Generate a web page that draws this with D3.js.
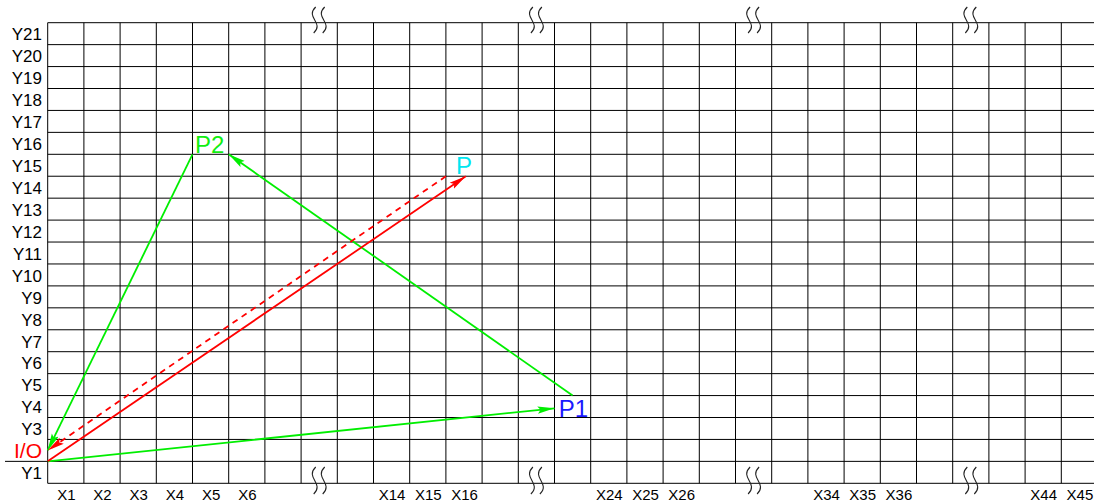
<!DOCTYPE html>
<html>
<head>
<meta charset="utf-8">
<script src="https://cdn.jsdelivr.net/npm/d3@7"></script>
<style>
  html, body { margin: 0; padding: 0; background: #fff; }
  svg { display: block; }
  text { font-family: "Liberation Sans", Arial, Helvetica, sans-serif; }
</style>
</head>
<body>
<svg id="chart" width="1094" height="504"></svg>
<script>
// ---------------- DATA ----------------
const colLabels = ["X1","X2","X3","X4","X5","X6","","","","X14","X15","X16","","","","X24","X25","X26","","","","X34","X35","X36","","","","X44","X45"];
const rowLabels = ["Y1","I/O","Y3","Y4","Y5","Y6","Y7","Y8","Y9","Y10","Y11","Y12","Y13","Y14","Y15","Y16","Y17","Y18","Y19","Y20","Y21"];
const breakCols = [7, 13, 19, 25];           // zero-based grid columns carrying a break mark
// arrows in grid units: [x, y] with x = columns from left edge, y = rows from bottom edge
const redSolid  = [[0, 1], [11.55, 14]];     // O -> P
const redDashed = [[11, 14], [0, 1.5]];      // P -> I/O
const green1    = [[0, 1], [14, 3.42]];      // O -> P1
const green2    = [[14.5, 4], [5, 15]];      // P1 -> P2
const green3    = [[4, 15], [0, 1.5]];       // P2 -> I/O
const pointLabels = [
  { name: "P",  x: 11.28, y: 14.08 },
  { name: "P1", x: 14.12, y: 3.03 },
  { name: "P2", x: 4.07,  y: 15.07 }
];

// ---------------- LAYOUT / STYLE ----------------
const nCols = colLabels.length, nRows = rowLabels.length;
const gLeft = 47.7, colW = 36.2, gTop = 22.7, gBottom = 483.3;
const x = d3.scaleLinear().domain([0, nCols]).range([gLeft, gLeft + nCols * colW]);
const y = d3.scaleLinear().domain([0, nRows]).range([gBottom, gTop]);
const RED = "#ff0000", GREEN = "#00ee00";
const labelColor = { "P": "#00e6f0", "P1": "#1a1aff", "P2": "#11ee11" };

const svg = d3.select("#chart");

// grid
const grid = svg.append("g").attr("stroke", "#000").attr("stroke-width", 1);
grid.selectAll("line.v").data(d3.range(0, nCols + 1)).join("line")
  .attr("class", "v")
  .attr("x1", d => x(d)).attr("x2", d => x(d))
  .attr("y1", y(0)).attr("y2", y(nRows));
grid.selectAll("line.h").data(d3.range(0, nRows + 1)).join("line")
  .attr("class", "h")
  .attr("x1", d => d === 1 ? 5 : x(0))
  .attr("x2", x(nCols))
  .attr("y1", d => y(d)).attr("y2", d => y(d));

// break marks
function breakPath(cx, y0, y1) {
  const h = y1 - y0;
  return `M${cx + 1},${y0} C${cx - 10},${y0 + h * 0.4} ${cx + 10},${y0 + h * 0.6} ${cx - 1},${y1}`;
}
const brk = svg.append("g").attr("fill", "none").attr("stroke", "#222").attr("stroke-width", 1.1);
breakCols.forEach(c => {
  const cx = x(c + 0.5);
  [[7, 33], [467, 494]].forEach(([a, b]) => {
    [-4.5, 4.5].forEach(off => {
      brk.append("path").attr("d", breakPath(cx + off, a, b));
    });
  });
});

// axis labels
const xAxis = d3.axisBottom(x)
  .tickValues(d3.range(nCols).map(i => i + 0.5))
  .tickFormat((d, i) => colLabels[i])
  .tickSize(0).tickPadding(0);
const gx = svg.append("g").attr("transform", `translate(0,${gBottom})`).call(xAxis);
gx.select(".domain").remove();
gx.selectAll("text")
  .attr("font-size", 15).attr("fill", "#000")
  .attr("dy", null).attr("y", 17)
  .style("font-family", '"Liberation Sans", Arial, sans-serif');

svg.append("g").selectAll("text").data(rowLabels).join("text")
  .attr("x", 42)
  .attr("y", (d, i) => (y(i) + y(i + 1)) / 2 + (d === "I/O" ? 8 : 6.8))
  .attr("text-anchor", "end")
  .attr("font-size", d => d === "I/O" ? 21 : 17)
  .attr("fill", d => d === "I/O" ? RED : "#000")
  .text(d => d);

// arrow markers
const defs = svg.append("defs");
function marker(id, color) {
  defs.append("marker")
    .attr("id", id)
    .attr("markerUnits", "userSpaceOnUse")
    .attr("viewBox", "0 0 17 8")
    .attr("refX", 17).attr("refY", 4)
    .attr("markerWidth", 17).attr("markerHeight", 8)
    .attr("orient", "auto")
    .append("path").attr("d", "M0,0.3 L17,4 L0,7.7 L3,4 Z").attr("fill", color);
}
marker("arrRed", RED);
marker("arrGreen", GREEN);

const line = d3.line().x(d => x(d[0])).y(d => y(d[1]));
const arrows = [
  { pts: green1, color: GREEN, m: "arrGreen", dash: null },
  { pts: green2, color: GREEN, m: "arrGreen", dash: null },
  { pts: green3, color: GREEN, m: "arrGreen", dash: null },
  { pts: redDashed, color: RED, m: "arrRed", dash: "6,5" },
  { pts: redSolid, color: RED, m: "arrRed", dash: null }
];
svg.append("g").selectAll("path").data(arrows).join("path")
  .attr("d", d => line(d.pts))
  .attr("fill", "none")
  .attr("stroke", d => d.color)
  .attr("stroke-width", 1.8)
  .attr("stroke-dasharray", d => d.dash)
  .attr("marker-end", d => `url(#${d.m})`);

// point labels
svg.append("g").selectAll("text").data(pointLabels).join("text")
  .attr("x", d => x(d.x)).attr("y", d => y(d.y))
  .attr("font-size", 24)
  .attr("fill", d => labelColor[d.name])
  .text(d => d.name);
</script>
</body>
</html>
